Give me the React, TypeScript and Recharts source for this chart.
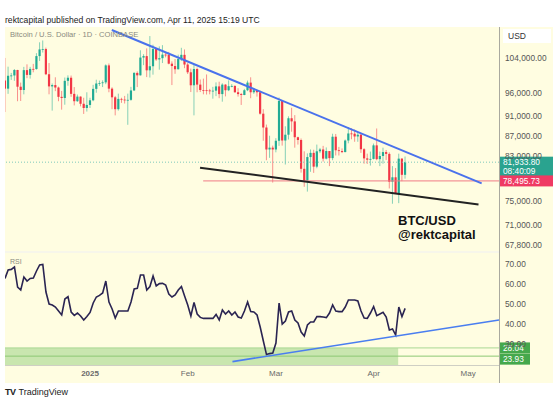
import { ComposedChart, LineChart, Line, Bar, XAxis, YAxis, ReferenceLine, ReferenceArea } from "recharts";

// daily candles Dec 5 2024 .. Apr 11 2025, values in thousands USD
const opens = [
  98.77, 96.95, 99.85, 99.92, 101.18, 97.38, 96.65, 101.15, 100.05, 101.43, 101.4, 104.45, 106.05, 106.15, 100.2, 97.45, 97.75, 97.2, 95.15, 94.9, 98.7, 99.4, 95.8, 94.2, 95.2, 93.65, 92.75,
  93.4, 94.4, 96.9, 98.1, 98.2, 98.35, 102.25, 96.95, 95.05, 92.5, 94.7, 94.55, 94.5, 94.5, 96.55, 100.5, 99.95, 104.1, 104.45, 101.1, 102.05, 106.15, 103.65, 103.95, 104.8, 104.75, 102.65, 102.1, 101.35, 103.75, 104.75,
  102.45, 100.65, 97.7, 101.4, 97.85, 96.65, 96.6, 96.55, 96.5, 96.5, 97.45, 95.75, 97.85, 96.6, 97.5, 97.55, 96.15, 95.75, 95.55, 96.6, 98.3, 96.15, 96.6, 96.15, 91.55, 88.7, 84.35, 84.7,
  84.35, 86.05, 94.25, 86.1, 87.25, 90.6, 89.95, 86.75, 86.2, 80.7, 78.55, 82.9, 83.7, 81.1, 84.0, 84.35, 82.6, 84.05, 82.7, 86.85, 84.2, 84.05, 83.85, 86.1, 87.5, 87.45, 86.9, 87.25, 84.4, 82.65, 82.4,
  82.55, 85.15, 82.5, 83.1, 83.85, 83.5, 78.35, 79.15, 76.3, 82.6, 79.6,
];
const highs = [
  104.0, 101.95, 100.5, 101.4, 101.22, 98.3, 101.9, 102.5, 101.9, 102.6, 105.15, 107.8, 108.25, 106.5, 102.8, 98.1, 99.5, 97.4, 96.45, 99.45, 99.95, 99.9, 97.3, 95.65, 95.25, 94.95, 96.15,
  94.95, 97.8, 98.95, 98.75, 98.8, 102.5, 102.7, 97.25, 95.35, 95.85, 94.95, 95.35, 95.85, 97.35, 100.7, 100.85, 105.85, 104.9, 106.3, 109.35, 107.2, 106.4, 106.8, 107.1, 105.3, 105.45, 103.2, 103.75, 104.8, 106.45, 106.05,
  102.8, 101.5, 102.5, 101.75, 99.0, 99.2, 100.15, 96.9, 97.35, 98.35, 98.5, 98.15, 97.95, 98.8, 97.95, 97.7, 97.05, 96.0, 96.9, 98.75, 99.5, 96.95, 96.65, 96.5, 92.5, 89.3, 87.05, 85.1,
  86.55, 95.0, 94.4, 88.95, 91.0, 92.8, 91.25, 86.85, 86.5, 84.0, 83.6, 84.35, 84.3, 85.3, 84.65, 85.05, 84.75, 84.05, 87.45, 87.4, 84.85, 84.55, 86.3, 88.8, 88.55, 88.3, 87.8, 87.55, 84.6, 83.55, 83.95,
  85.5, 88.5, 83.95, 84.7, 84.25, 83.8, 81.2, 80.85, 83.55, 82.7, 83.0,
];
const lows = [
  91.9, 95.8, 98.9, 98.7, 94.2, 94.25, 95.7, 99.3, 99.2, 100.65, 101.25, 103.3, 105.3, 100.0, 95.7, 92.2, 96.4, 94.2, 92.4, 93.45, 97.6, 95.15, 93.3, 94.05, 93.1, 91.5, 92.0,
  92.75, 94.2, 96.05, 97.55, 97.3, 97.95, 96.15, 92.5, 91.2, 92.2, 93.85, 93.7, 89.25, 94.3, 96.45, 97.3, 99.9, 102.3, 99.55, 99.45, 100.1, 103.3, 101.25, 102.8, 104.15, 102.5, 97.75, 100.3, 101.3, 103.3, 101.6,
  100.25, 96.2, 91.2, 96.15, 96.2, 95.7, 95.65, 95.7, 94.75, 95.3, 94.85, 94.1, 95.25, 96.4, 97.25, 96.05, 95.2, 93.4, 95.5, 96.4, 94.85, 95.8, 95.2, 91.35, 86.05, 82.3, 82.75, 78.2,
  83.8, 85.05, 85.1, 81.5, 86.3, 87.85, 84.7, 85.3, 80.0, 77.45, 76.6, 80.15, 79.95, 80.8, 83.65, 82.05, 82.45, 81.2, 82.3, 83.2, 83.2, 83.65, 83.8, 85.55, 86.35, 85.85, 85.85, 83.7, 81.65, 81.6, 81.3,
  82.45, 82.3, 81.2, 81.65, 82.35, 77.15, 74.5, 76.25, 74.6, 78.45, 78.9,
];
const closes = [
  96.95, 99.85, 99.92, 101.18, 97.38, 96.65, 101.15, 100.05, 101.43, 101.4, 104.45, 106.05, 106.15, 100.2, 97.45, 97.75, 97.2, 95.15, 94.9, 98.7, 99.4, 95.8, 94.2, 95.2, 93.65, 92.75, 93.4,
  94.4, 96.9, 98.1, 98.2, 98.35, 102.25, 96.95, 95.05, 92.5, 94.7, 94.55, 94.5, 94.5, 96.55, 100.5, 99.95, 104.1, 104.45, 101.1, 102.05, 106.15, 103.65, 103.95, 104.8, 104.75, 102.65, 102.1, 101.35, 103.75, 104.75, 102.45,
  100.65, 97.7, 101.4, 97.85, 96.65, 96.6, 96.55, 96.5, 96.5, 97.45, 95.75, 97.85, 96.6, 97.5, 97.55, 96.15, 95.75, 95.55, 96.6, 98.3, 96.15, 96.6, 96.15, 91.55, 88.7, 84.35, 84.7, 84.35,
  86.05, 94.25, 86.1, 87.25, 90.6, 89.95, 86.75, 86.2, 80.7, 78.55, 82.9, 83.7, 81.1, 84.0, 84.35, 82.6, 84.05, 82.7, 86.85, 84.2, 84.05, 83.85, 86.1, 87.5, 87.45, 86.9, 87.25, 84.4, 82.65, 82.4, 82.55,
  85.15, 82.5, 83.1, 83.85, 83.5, 78.35, 79.15, 76.3, 82.6, 79.6, 81.934,
];
const rsiValues = [
  62.8, 67, 67.3, 68.5, 58.5, 57, 63.5, 61.5, 62.8, 63, 66.5, 69.5, 69.8, 56, 50, 49.5, 48.5, 46.5, 44.5, 52.5, 53.7, 46, 44.3, 45.5, 44, 42, 43.7,
  45.8, 50.5, 53.5, 54.3, 55.5, 61.5, 51, 47.5, 43, 46.5, 46.5, 46.5, 46.5, 51, 57.5, 57.8, 64.5, 64.5, 57, 58.7, 64, 59, 60.2, 60.3, 59.5, 55, 53.5, 54.5, 57, 58.7, 54,
  49.5, 44, 50.8, 45, 43.3, 42.8, 42.8, 42.8, 42.8, 44.8, 42, 47, 45, 46.5, 44.5, 46, 43.5, 43, 46.5, 51, 46.2, 46, 44.5, 38.5, 31.5, 24.7, 25.2, 25.5,
  30.5, 50.5, 40, 41.5, 46, 46.5, 42, 40.5, 36, 34, 39.5, 41, 41, 43.7, 43.7, 43.5, 43.2, 45.5, 49.5, 46.5, 46.2, 46.2, 48.5, 52, 52, 52, 51.5, 46.5, 43, 42.8, 45.5,
  48.7, 44.2, 45, 45.8, 43.5, 37, 37.5, 34.5, 48.5, 43.7, 47.8,
];

const priceTicks = [67800, 71000, 75000, 83000, 87000, 91000, 96000, 104000];
const rsiTicks = [30, 40, 50, 60, 70];
const monthTicks = [27, 58, 86, 117, 147];
const monthLabels = ["2025", "Feb", "Mar", "Apr", "May"];

const lastPrice = 81933.8;
const countdown = "08:40:09";
const supportLevel = 78495.73;
const rsiZoneTop = 28.04;
const rsiZoneLow = 23.93;

// drawn trendlines: [day index, value]
const resistanceLine = [{ x: 33.9, y: 110870 }, { x: 151.3, y: 78050 }];
const supportLine = [{ x: 61.9, y: 80900 }, { x: 150.3, y: 74380 }];
const levelLine = [{ x: 62.9, y: supportLevel }, { x: 156.8, y: supportLevel }];
const rsiTrendLine = [{ x: 72.2, y: 21.2 }, { x: 156.8, y: 42 }];
const rsiZoneEnd = 124.8;

const X_DOMAIN = [0, 156.8];
const UP = "#22ab94";
const DOWN = "#f23645";
const FONT = "'Liberation Sans', Arial, sans-serif";

const candles = opens.map((o, i) => ({
  i,
  o: o * 1000,
  h: highs[i] * 1000,
  l: lows[i] * 1000,
  c: closes[i] * 1000,
}));
const rsiData = rsiValues.map((rsi, i) => ({ i, rsi }));

const fmt = (v: number) =>
  v.toLocaleString("en-US", { minimumFractionDigits: 2, maximumFractionDigits: 2 });

const Candle = (props: any) => {
  const { x, y, width, height, payload } = props;
  if (!payload || !isFinite(y) || !isFinite(height)) return null;
  const cx = x + width / 2;
  const { o, h, l, c } = payload;
  const span = Math.log(h) - Math.log(l) || 1;
  const yOf = (v: number) => y + (height * (Math.log(h) - Math.log(v))) / span;
  const color = c >= o ? UP : DOWN;
  const top = yOf(Math.max(o, c));
  const bot = yOf(Math.min(o, c));
  return (
    <g>
      <line x1={cx} x2={cx} y1={y} y2={y + height} stroke={color} strokeOpacity={0.55} strokeWidth={1} />
      <rect x={cx - 1.1} y={top} width={2.2} height={Math.max(bot - top, 0.8)} fill={color} />
    </g>
  );
};

// price tag drawn on the right axis, at the line's level
const AxisTag = (props: any) => {
  const { viewBox, lines, bg, w = 54, shift = 0 } = props;
  if (!viewBox) return null;
  const x0 = viewBox.x + viewBox.width;
  const y0 = viewBox.y + shift;
  const h = lines.length * 9 + 2;
  return (
    <g>
      <rect x={x0} y={y0 - 5.5} width={w} height={h} fill={bg} />
      {lines.map((t: string, k: number) => (
        <text key={k} x={x0 + 4} y={y0 + 3 + k * 9} fontSize={8.3} fill="#fff" fontFamily={FONT}>
          {t}
        </text>
      ))}
    </g>
  );
};

const MonthTick = (props: any) => {
  const { x, y, payload } = props;
  const idx = monthTicks.indexOf(payload.value);
  const label = monthLabels[idx] ?? "";
  return (
    <text x={x} y={y + 9} textAnchor="middle" fontSize={8} fill="#6a6a6a" fontFamily={FONT} fontWeight={label === "2025" ? 700 : 400}>
      {label}
    </text>
  );
};

const axisTick = { fontSize: 8.3, fill: "#555", fontFamily: FONT };

export default function App() {
  return (
    <div style={{ position: "absolute", left: 0, top: 0, width: 555, height: 397, background: "#fff", overflow: "hidden", fontFamily: FONT }}>
      <div style={{ position: "absolute", left: 5, top: 15, fontSize: 8.6, color: "#222", whiteSpace: "nowrap" }}>
        rektcapital published on TradingView.com, Apr 11, 2025 15:19 UTC
      </div>
      <div style={{ position: "absolute", left: 5, top: 27, width: 548, height: 356, background: "#fffde1" }} />
      <div style={{ position: "absolute", left: 5, top: 251, width: 494, height: 2, background: "#f7f6ea" }} />
      <div style={{ position: "absolute", left: 5, top: 365, width: 494, height: 1, background: "#cfcfc4" }} />

      <div style={{ position: "absolute", left: 5, top: 27 }}>
        <ComposedChart width={548} height={225} data={candles} margin={{ top: 0, right: 0, bottom: 0, left: 0 }}>
          <XAxis type="number" dataKey="i" domain={X_DOMAIN} hide allowDataOverflow />
          <YAxis
            orientation="right"
            width={54}
            scale="log"
            domain={[66710, 111640]}
            allowDataOverflow
            ticks={priceTicks}
            interval={0}
            tickFormatter={fmt}
            axisLine={false}
            tickLine={false}
            tickSize={4}
            tickMargin={2}
            tick={axisTick}
          />
          <ReferenceLine y={lastPrice} stroke="#7fc8bb" strokeDasharray="1 2" />
          <ReferenceLine segment={levelLine} stroke="#f07a86" strokeWidth={1} />
          <Bar dataKey={(d: any) => [d.l, d.h]} shape={<Candle />} barSize={3} isAnimationActive={false} />
          <ReferenceLine segment={resistanceLine} stroke="#4a72ec" strokeWidth={2} />
          <ReferenceLine segment={supportLine} stroke="#222" strokeWidth={2} />
          <ReferenceLine y={lastPrice} stroke="none" label={<AxisTag lines={[fmt(lastPrice), countdown]} bg="#2aa38f" />} />
          <ReferenceLine y={supportLevel} stroke="none" label={<AxisTag lines={[fmt(supportLevel)]} bg="#ef3a63" />} />
        </ComposedChart>
      </div>

      <div style={{ position: "absolute", left: 5, top: 253 }}>
        <LineChart width={548} height={130} data={rsiData} margin={{ top: 0, right: 0, bottom: 0, left: 0 }}>
          <XAxis
            type="number"
            dataKey="i"
            domain={X_DOMAIN}
            allowDataOverflow
            ticks={monthTicks}
            interval={0}
            height={18}
            axisLine={false}
            tickLine={false}
            tickSize={0}
            tick={<MonthTick />}
          />
          <YAxis
            orientation="right"
            width={54}
            domain={[19.5, 75.5]}
            allowDataOverflow
            ticks={rsiTicks}
            interval={0}
            tickFormatter={fmt}
            axisLine={false}
            tickLine={false}
            tickSize={4}
            tickMargin={2}
            tick={axisTick}
          />
          <ReferenceArea x1={0} x2={rsiZoneEnd} y1={19.5} y2={rsiZoneTop} fill="#bfe2a6" fillOpacity={0.85} stroke="none" />
          <ReferenceLine y={rsiZoneTop} stroke="#a9d893" />
          <ReferenceLine y={rsiZoneLow} stroke="#8cc874" />
          <Line dataKey="rsi" stroke="#2a2452" strokeWidth={1.6} dot={false} isAnimationActive={false} />
          <ReferenceLine segment={rsiTrendLine} stroke="#4a7ef0" strokeWidth={1.6} />
          <ReferenceLine y={rsiZoneTop} stroke="none" label={<AxisTag lines={[fmt(rsiZoneTop)]} bg="#45a84c" w={31} />} />
          <ReferenceLine y={rsiZoneLow} stroke="none" label={<AxisTag lines={[fmt(rsiZoneLow)]} bg="#45a84c" w={31} shift={3} />} />
        </LineChart>
      </div>

      <div style={{ position: "absolute", left: 499, top: 27, width: 1, height: 356, background: "#a9a99f" }} />
      <div style={{ position: "absolute", left: 503, top: 29, width: 48, height: 14, background: "#fff", fontSize: 8.5, color: "#333", lineHeight: "14px", paddingLeft: 5, boxSizing: "border-box" }}>
        USD
      </div>
      <div style={{ position: "absolute", left: 10, top: 30, fontSize: 7.6, color: "#8a8a80", whiteSpace: "nowrap" }}>
        Bitcoin / U.S. Dollar · 1D · COINBASE
      </div>
      <div style={{ position: "absolute", left: 10, top: 258, fontSize: 7, color: "#8a8a80" }}>RSI</div>
      <div style={{ position: "absolute", left: 398, top: 214, fontSize: 13, fontWeight: 700, color: "#111", lineHeight: "14px", whiteSpace: "nowrap" }}>
        BTC/USD
        <br />
        @rektcapital
      </div>
      <div style={{ position: "absolute", left: 5, top: 387, fontSize: 9, color: "#222", whiteSpace: "nowrap" }}>
        <span style={{ fontWeight: 900, letterSpacing: -0.5, marginRight: 3 }}>TV</span>TradingView
      </div>
    </div>
  );
}
